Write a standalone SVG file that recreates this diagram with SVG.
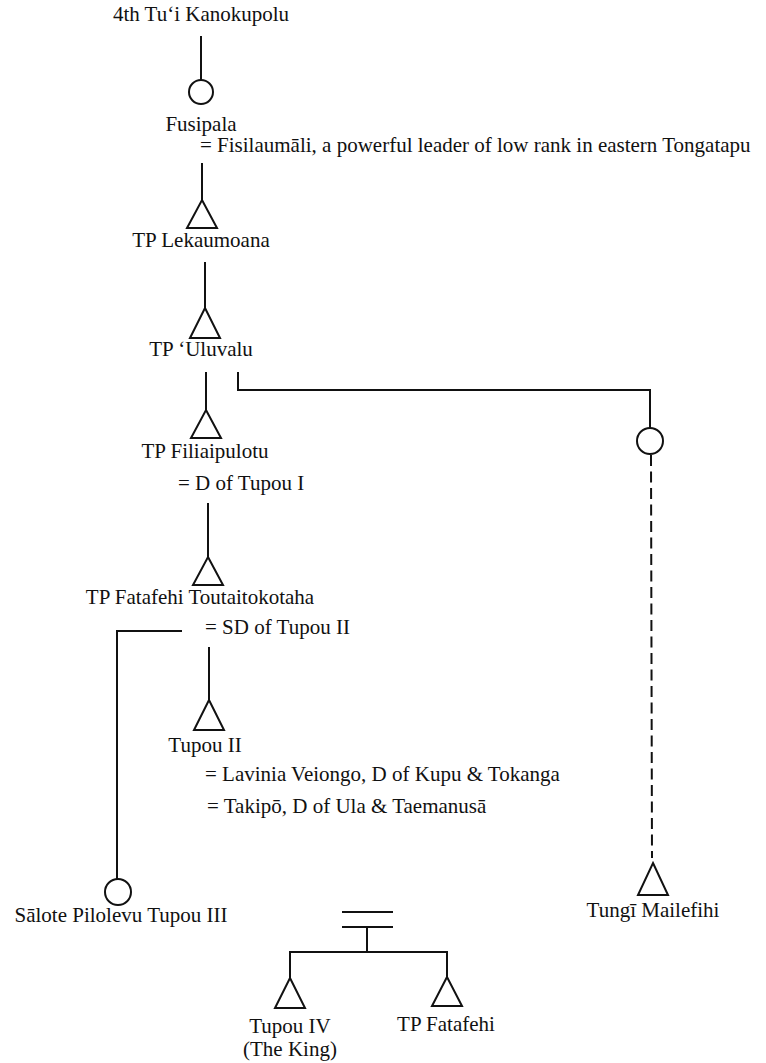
<svg xmlns="http://www.w3.org/2000/svg" width="766" height="1063" viewBox="0 0 766 1063">
  <style>
    text { font-family: "Liberation Serif", "Times New Roman", serif; font-size: 21px; fill: #111; }
    .c { text-anchor: middle; }
    .ln { stroke: #111; stroke-width: 2; fill: none; }
    .dash { stroke: #111; stroke-width: 2; fill: none; stroke-dasharray: 11 5.5; }
    .sym { stroke: #111; stroke-width: 2; fill: #fff; }
  </style>

  <!-- descent lines, marriage bar and sibling line -->
  <g id="connectors">
    <line class="ln" x1="201" y1="36" x2="201" y2="80"/>
    <line class="ln" x1="202" y1="163" x2="202" y2="200"/>
    <line class="ln" x1="205" y1="262" x2="205" y2="308"/>
    <line class="ln" x1="206" y1="372" x2="206" y2="410"/>
    <polyline class="ln" points="238,372 238,390 650,390 650,428"/>
    <line class="dash" x1="651" y1="455" x2="652" y2="858"/>
    <line class="ln" x1="208" y1="503" x2="208" y2="557"/>
    <polyline class="ln" points="182,631 117,631 117,879"/>
    <line class="ln" x1="209" y1="647" x2="209" y2="700"/>
    <line class="ln" x1="342" y1="912" x2="393" y2="912"/>
    <line class="ln" x1="342" y1="927" x2="393" y2="927"/>
    <line class="ln" x1="367" y1="927" x2="367" y2="952"/>
    <polyline class="ln" points="290,978 290,952 447,952 447,977"/>
  </g>

  <g id="n-kanokupolu">
    <text class="c" x="201" y="21">4th Tu‘i Kanokupolu</text>
  </g>

  <g id="n-fusipala">
    <circle class="sym" cx="201" cy="92" r="12"/>
    <text class="c" x="201" y="131">Fusipala</text>
    <text x="200" y="152">= Fisilaumāli, a powerful leader of low rank in eastern Tongatapu</text>
  </g>

  <g id="n-lekaumoana">
    <polygon class="sym" points="202,200 217,228 187,228"/>
    <text class="c" x="201" y="247">TP Lekaumoana</text>
  </g>

  <g id="n-uluvalu">
    <polygon class="sym" points="205,308 220,338 190,338"/>
    <text class="c" x="201" y="356">TP ‘Uluvalu</text>
  </g>

  <g id="n-filiaipulotu">
    <polygon class="sym" points="206,410 221,438 191,438"/>
    <text class="c" x="205" y="458">TP Filiaipulotu</text>
    <text x="178" y="490">= D of Tupou I</text>
  </g>

  <g id="n-daughter-uluvalu">
    <circle class="sym" cx="650" cy="441" r="13"/>
  </g>

  <g id="n-fatafehi-toutaitokotaha">
    <polygon class="sym" points="208,557 223,585 193,585"/>
    <text class="c" x="200" y="604">TP Fatafehi Toutaitokotaha</text>
    <text x="205" y="634">= SD of Tupou II</text>
  </g>

  <g id="n-tupou-ii">
    <polygon class="sym" points="209,700 224,730 194,730"/>
    <text class="c" x="205" y="752">Tupou II</text>
    <text x="205" y="781">= Lavinia Veiongo, D of Kupu &amp; Tokanga</text>
    <text x="207" y="813">= Takipō, D of Ula &amp; Taemanusā</text>
  </g>

  <g id="n-salote">
    <circle class="sym" cx="118" cy="892" r="13"/>
    <text class="c" x="121" y="922">Sālote Pilolevu Tupou III</text>
  </g>

  <g id="n-tungi">
    <polygon class="sym" points="653,863 668,895 638,895"/>
    <text class="c" x="653" y="917">Tungī Mailefihi</text>
  </g>

  <g id="n-tupou-iv">
    <polygon class="sym" points="290,978 305,1008 275,1008"/>
    <text class="c" x="290" y="1033">Tupou IV</text>
    <text class="c" x="290" y="1056">(The King)</text>
  </g>

  <g id="n-tp-fatafehi">
    <polygon class="sym" points="447,977 462,1006 432,1006"/>
    <text class="c" x="446" y="1031">TP Fatafehi</text>
  </g>
</svg>
